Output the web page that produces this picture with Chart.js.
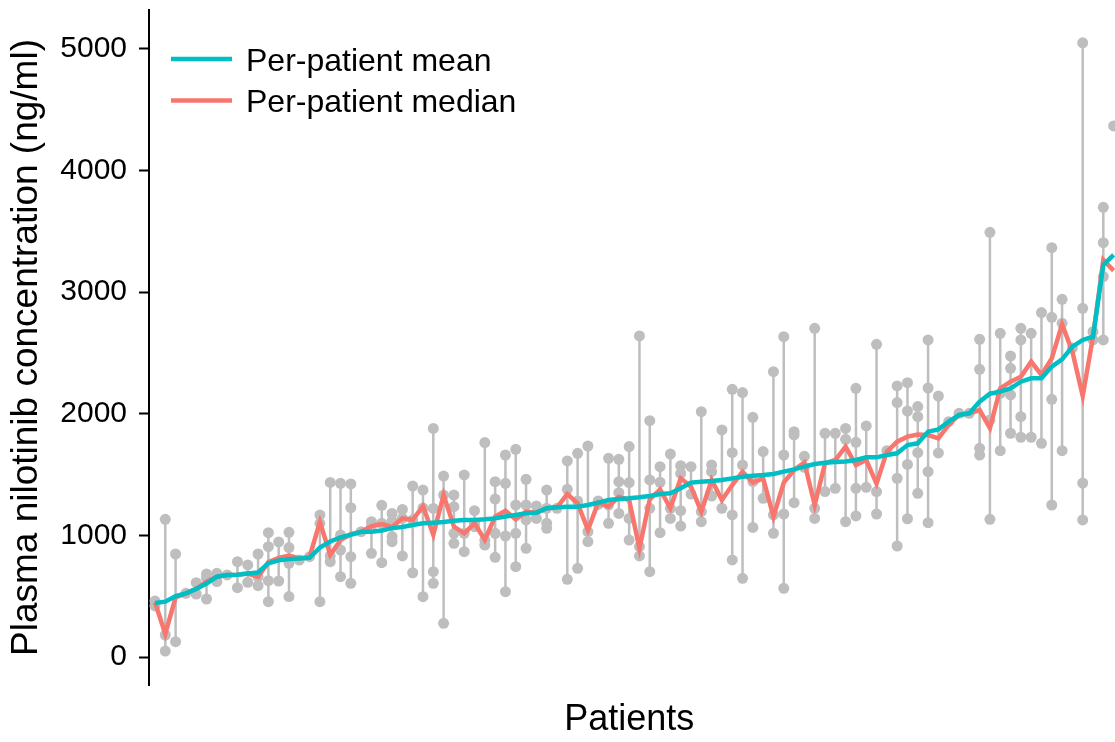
<!DOCTYPE html>
<html>
<head>
<meta charset="utf-8">
<script src="https://cdn.jsdelivr.net/npm/chart.js@4.4.1/dist/chart.umd.min.js"></script>
<style>
  html, body { margin: 0; padding: 0; background: #fff; }
</style>
</head>
<body>
<canvas id="grafica-nilotinib" width="1115" height="742"></canvas>
<script>
// media por paciente (ng/ml), pacientes ordenados por la media
var media = [445, 455, 500, 524, 560, 605, 660, 674, 677, 686,
  695, 770, 795, 805, 810, 815, 900, 950, 984, 1005,
  1030, 1031, 1040, 1060, 1069, 1086, 1100, 1105, 1110, 1120,
  1127, 1127, 1132, 1140, 1155, 1168, 1182, 1187, 1223, 1231,
  1236, 1236, 1250, 1270, 1291, 1300, 1305, 1313, 1324, 1340,
  1346, 1387, 1434, 1442, 1448, 1456, 1469, 1483, 1491, 1497,
  1505, 1524, 1543, 1565, 1587, 1598, 1604, 1607, 1620, 1642,
  1642, 1661, 1675, 1743, 1757, 1853, 1872, 1935, 1990, 2004,
  2100, 2165, 2182, 2209, 2264, 2292, 2292, 2388, 2448, 2552,
  2607, 2634, 3224, 3306];

// mediana por paciente
var mediana = [450, 190, 490, 524, 560, 620, 660, 674, 677, 686,
  660, 780, 815, 835, 810, 825, 1110, 839, 962, 1010,
  1030, 1076, 1093, 1069, 1140, 1128, 1241, 1005, 1332, 1072,
  1017, 1099, 962, 1154, 1203, 1132, 1195, 1187, 1223, 1231,
  1340, 1264, 1045, 1270, 1236, 1318, 1291, 894, 1297, 1379,
  1223, 1469, 1401, 1195, 1456, 1291, 1414, 1524, 1434, 1469,
  1154, 1434, 1538, 1600, 1250, 1593, 1620, 1730, 1578, 1620,
  1426, 1689, 1771, 1812, 1830, 1825, 1798, 1908, 1990, 2004,
  2031, 1883, 2209, 2264, 2305, 2429, 2319, 2456, 2736, 2511,
  2146, 2634, 3265, 3177];

// mediciones individuales de cada paciente (puntos grises)
var mediciones = [
  [460, 420], [1132, 181, 49], [847, 126], [524], [611, 518],
  [683, 650, 477], [688, 620], [675], [784, 570], [757, 614],
  [847, 660, 587], [1022, 907, 628, 455], [946, 625], [1025, 900, 771, 497], [797],
  [825], [1168, 1099, 455], [1436, 830, 784], [1428, 1003, 880, 661], [1423, 1228, 825, 606],
  [1031], [1113, 1076, 853], [1247, 1099, 776], [1181, 1120, 990, 948], [1214, 1140, 831],
  [1406, 1128, 693], [1373, 1225, 496], [1880, 1222, 702, 606], [1488, 1332, 277], [1332, 1236, 1017, 935],
  [1497, 1017, 866], [1203, 1099, 1072], [1763, 962, 921], [1442, 1299, 1017, 820], [1661, 1428, 995, 537],
  [1708, 1250, 1017, 743], [1461, 1250, 1127, 894], [1242, 1140], [1373, 1223, 1099, 1058], [1223],
  [1612, 1379, 639], [1675, 1283, 729], [1735, 1031, 948], [1283, 1255], [1634, 1250, 1099],
  [1626, 1442, 1351, 1181], [1730, 1434, 1140, 962], [2640, 907, 831], [1943, 1456, 1223, 702], [1565, 1437, 1022],
  [1669, 1223, 1140], [1573, 1510, 1203, 1077], [1565, 1340], [2017, 1195, 1113], [1578, 1524, 1324],
  [1867, 1223], [2201, 1680, 1168, 798], [2174, 1578, 647], [1971, 1442, 1066], [1689, 1305],
  [2346, 1168, 1017], [2634, 1661, 1176, 565], [1853, 1826, 1269], [1650, 1560], [2703, 1223, 1140],
  [1839, 1360], [1839, 1387], [1880, 1790, 1113], [2209, 1765, 1387, 1160], [1900, 1395],
  [2571, 1360, 1176], [1697], [2229, 2092, 1469, 913], [2256, 2023, 1584, 1137], [2059, 1976, 1680, 1346],
  [2607, 2212, 1524, 1105], [2146, 1678], [1935], [2004], [2004],
  [2612, 2366, 1716, 1661], [3492, 1949, 1132], [2662, 2168, 1697], [2475, 2374, 2155, 1840], [2703, 2607, 1976, 1807],
  [2662, 1807], [2832, 1757], [3366, 2793, 2119, 1250], [2941, 2744, 1697], [2540],
  [5050, 2867, 1430, 1127], [2675, 2607], [3698, 3407, 3128, 2607], [4367, 3177, 2429]
];

var ticksY = [0, 1000, 2000, 3000, 4000, 5000];
var leyenda = ['Per-patient mean', 'Per-patient median'];

var colorMedia = '#00BFC4';
var colorMediana = '#F8766D';
var colorGris = '#BEBEBE';
var fuente = "'Liberation Sans', Arial, sans-serif";

// datos para chart.js
var datosMedia = media.map(function(v, i) { return {x: i, y: v}; });
var datosMediana = mediana.map(function(v, i) { return {x: i, y: v}; });
var datosPuntos = [];
var datosRangos = [];
mediciones.forEach(function(lista, i) {
  lista.forEach(function(v) { datosPuntos.push({x: i, y: v}); });
  datosRangos.push({x: i, y: Math.min.apply(null, lista)});
  datosRangos.push({x: i, y: Math.max.apply(null, lista)});
  datosRangos.push({x: i, y: null}); // corta la linea entre pacientes
});

// leyenda dentro del area de la grafica (arriba a la izquierda)
var pluginLeyenda = {
  id: 'leyendaInterna',
  afterDraw: function(chart) {
    var ctx = chart.ctx;
    var izq = chart.chartArea.left;
    var colores = [colorMedia, colorMediana];
    ctx.save();
    ctx.font = '32px ' + fuente;
    ctx.textBaseline = 'middle';
    ctx.fillStyle = '#000';
    leyenda.forEach(function(txt, k) {
      var y = 59 + k * 41.5;
      ctx.strokeStyle = colores[k];
      ctx.lineWidth = 4.5;
      ctx.beginPath();
      ctx.moveTo(izq + 22, y);
      ctx.lineTo(izq + 83, y);
      ctx.stroke();
      ctx.fillText(txt, izq + 97, y + 3);
    });
    ctx.restore();
  }
};

var ctx = document.getElementById('grafica-nilotinib').getContext('2d');
var graficaNilotinib = new Chart(ctx, {
  type: 'line',
  data: {
    datasets: [{
      label: leyenda[0],
      data: datosMedia,
      borderColor: colorMedia,
      borderWidth: 4.5,
      pointRadius: 0,
      tension: 0,
      clip: false
    }, {
      label: leyenda[1],
      data: datosMediana,
      borderColor: colorMediana,
      borderWidth: 4.5,
      pointRadius: 0,
      tension: 0,
      clip: false
    }, {
      label: 'mediciones',
      data: datosPuntos,
      showLine: false,
      pointRadius: 5.5,
      pointBackgroundColor: colorGris,
      pointBorderWidth: 0,
      clip: false
    }, {
      label: 'rangos',
      data: datosRangos,
      borderColor: colorGris,
      borderWidth: 2.5,
      pointRadius: 0,
      spanGaps: false,
      clip: false
    }]
  },
  options: {
    responsive: false,
    animation: false,
    layout: { padding: { top: 10, right: 0, left: 0, bottom: 0 } },
    plugins: {
      legend: { display: false },
      tooltip: { enabled: false }
    },
    scales: {
      x: {
        type: 'linear',
        min: -0.58,
        max: 92.6,
        grid: { display: false },
        border: { display: false },
        ticks: { display: false },
        title: {
          display: true,
          text: 'Patients',
          color: '#000',
          font: { family: fuente, size: 36 },
          padding: { top: 0, bottom: 0 }
        },
        afterFit: function(scale) {
          scale.height = 57;
          scale.paddingLeft = 0;
          scale.paddingRight = 0;
        }
      },
      y: {
        type: 'linear',
        min: -230,
        max: 5320,
        afterBuildTicks: function(axis) {
          axis.ticks = ticksY.map(function(v) { return {value: v}; });
        },
        ticks: {
          color: '#000',
          font: { family: fuente, size: 30 },
          padding: 12,
          callback: function(v) { return String(v); }
        },
        grid: {
          display: true,
          drawOnChartArea: false,
          drawTicks: true,
          tickLength: 10,
          tickWidth: 2,
          tickColor: '#000'
        },
        border: { display: true, color: '#000', width: 2 },
        title: {
          display: true,
          text: 'Plasma nilotinib concentration (ng/ml)',
          color: '#000',
          font: { family: fuente, size: 37 },
          padding: { top: 5, bottom: 0 }
        },
        afterFit: function(scale) {
          scale.width = 149;
          scale.paddingTop = 0;
          scale.paddingBottom = 0;
        }
      }
    }
  },
  plugins: [pluginLeyenda]
});
</script>
</body>
</html>
